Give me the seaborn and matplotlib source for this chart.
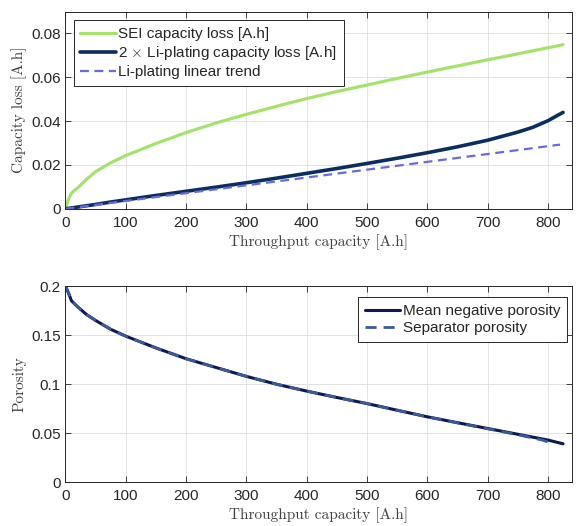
import matplotlib

matplotlib.use("Agg")
import matplotlib.pyplot as plt
import pandas as pd
import seaborn as sns

# 容量損失データ
THROUGHPUT = [0, 5, 10, 20, 35, 50, 75, 100, 150, 200, 250, 300, 350, 400,
              450, 500, 550, 600, 650, 700, 750, 775, 800, 815, 825]
SEI_LOSS = [0.0, 0.0045, 0.0072, 0.0095, 0.0135, 0.0170, 0.0210, 0.0243,
            0.0298, 0.0348, 0.0392, 0.0431, 0.0468, 0.0503, 0.0535, 0.0565,
            0.0595, 0.0624, 0.0652, 0.0680, 0.0707, 0.0721, 0.0735, 0.0743,
            0.0749]
PLATING_LOSS_X2 = [0.0, 0.0002, 0.0004, 0.0008, 0.0014, 0.0020, 0.0031,
                   0.0041, 0.0061, 0.0080, 0.0099, 0.0119, 0.0140, 0.0162,
                   0.0184, 0.0207, 0.0231, 0.0256, 0.0283, 0.0313, 0.0350,
                   0.0372, 0.0402, 0.0425, 0.0440]

TREND_X = [0, 820]
TREND_Y = [0.0, 0.0293]

# 空隙率データ
POROSITY_X = [0, 5, 10, 20, 35, 50, 75, 100, 150, 200, 250, 300, 350, 400,
              450, 500, 550, 600, 650, 700, 750, 800, 825]
MEAN_NEG_POROSITY = [0.200, 0.193, 0.185, 0.179, 0.171, 0.165, 0.156, 0.149,
                     0.137, 0.126, 0.117, 0.108, 0.100, 0.093, 0.0865, 0.0803,
                     0.0735, 0.0668, 0.0608, 0.0549, 0.0490, 0.0431, 0.0393]
SEP_X = [0, 5, 10, 20, 35, 50, 75, 100, 150, 200, 250, 300, 350, 400,
         450, 500, 550, 600, 650, 700, 750, 790, 810]
SEPARATOR_POROSITY = [0.200, 0.193, 0.185, 0.179, 0.171, 0.165, 0.156, 0.149,
                      0.137, 0.126, 0.117, 0.108, 0.100, 0.093, 0.0865, 0.0803,
                      0.0735, 0.0668, 0.0606, 0.0546, 0.0485, 0.0432, 0.0390]

sns.set_style("ticks")
plt.rcParams["font.family"] = ["Liberation Sans", "DejaVu Sans"]
plt.rcParams["mathtext.fontset"] = "cm"

TICK_COLOR = "#262626"
LABEL_COLOR = "#404040"
# 軸ラベルは LaTeX 風のセリフ体 (matplotlib 同梱の cmr10)
LABEL_FONT = dict(family="cmr10", fontsize=11, color=LABEL_COLOR)


def style_axes(ax, ylim, yticks, ylabels):
    ax.set_xlim(0, 840)
    ax.set_ylim(*ylim)
    ax.set_xticks(range(0, 801, 100))
    ax.set_yticks(yticks)
    ax.set_yticklabels(ylabels)
    ax.grid(True, color="#dedede", linewidth=0.6)
    ax.set_axisbelow(True)
    ax.tick_params(direction="in", top=True, right=True, length=4,
                   width=0.6, labelsize=11, colors=TICK_COLOR)
    ax.tick_params(axis="x", pad=5)
    ax.tick_params(axis="y", pad=3.5)
    for spine in ax.spines.values():
        spine.set_visible(True)
        spine.set_color(TICK_COLOR)
        spine.set_linewidth(0.7)
    ax.set_xlabel("Throughput capacity [A.h]", labelpad=3, **LABEL_FONT)


def boxed_legend(ax, loc, anchor):
    leg = ax.legend(loc=loc, bbox_to_anchor=anchor, fontsize=11,
                    frameon=True, fancybox=False, edgecolor=TICK_COLOR,
                    framealpha=1, borderpad=0.45, handlelength=2.3,
                    handletextpad=0.15, labelspacing=0.2, borderaxespad=0)
    leg.get_frame().set_linewidth(0.7)
    return leg


fig = plt.figure(figsize=(5.77, 5.26), dpi=100)
ax1 = fig.add_axes([0.1135, 0.603, 0.878, 0.375])
ax2 = fig.add_axes([0.1135, 0.083, 0.878, 0.373])

df_loss = pd.DataFrame({"x": THROUGHPUT, "sei": SEI_LOSS, "pl": PLATING_LOSS_X2})
df_trend = pd.DataFrame({"x": TREND_X, "y": TREND_Y})

sns.lineplot(data=df_loss, x="x", y="sei", ax=ax1, color="#a6e36e",
             linewidth=2.3, label="SEI capacity loss [A.h]")
sns.lineplot(data=df_loss, x="x", y="pl", ax=ax1, color="#0a2f5f",
             linewidth=2.6, label="2 $\\times$ Li-plating capacity loss [A.h]")
sns.lineplot(data=df_trend, x="x", y="y", ax=ax1, color="#6a6ae0",
             linewidth=1.6, linestyle=(0, (4, 2.5)),
             label="Li-plating linear trend")

style_axes(ax1, (0, 0.09), [0, 0.02, 0.04, 0.06, 0.08],
           ["0", "0.02", "0.04", "0.06", "0.08"])
ax1.set_ylabel("Capacity loss [A.h]", labelpad=3, **LABEL_FONT)
boxed_legend(ax1, "upper left", (0.016, 0.955))

df_mean = pd.DataFrame({"x": POROSITY_X, "y": MEAN_NEG_POROSITY})
df_sep = pd.DataFrame({"x": SEP_X, "y": SEPARATOR_POROSITY})

sns.lineplot(data=df_mean, x="x", y="y", ax=ax2, color="#0c1a4f",
             linewidth=2.2, label="Mean negative porosity")
sns.lineplot(data=df_sep, x="x", y="y", ax=ax2, color="#3a5a99",
             linewidth=2.0, linestyle=(0, (4, 2.5)),
             label="Separator porosity")

style_axes(ax2, (0, 0.2), [0, 0.05, 0.1, 0.15, 0.2],
           ["0", "0.05", "0.1", "0.15", "0.2"])
ax2.set_ylabel("Porosity", labelpad=3, **LABEL_FONT)
boxed_legend(ax2, "upper right", (0.99, 0.944))

fig.savefig("out.png", dpi=100)
